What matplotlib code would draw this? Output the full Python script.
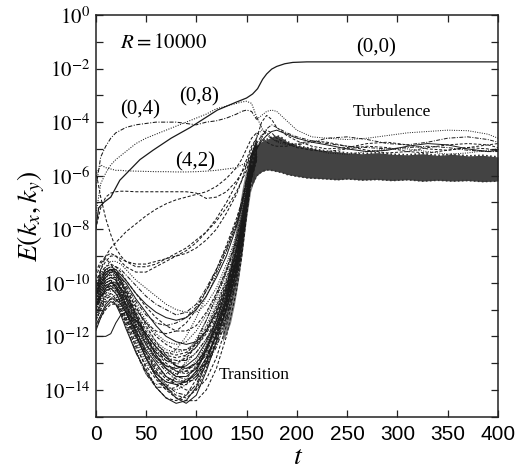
import numpy as np
import matplotlib
matplotlib.use("Agg")
import matplotlib.pyplot as plt

plt.rcParams['mathtext.fontset'] = 'stix'

# ---------------- data (log10 E) ----------------
T1 = [0, 5, 10, 15, 20, 25, 30, 40, 50, 60, 70, 80, 90, 100, 110, 120, 130, 140, 145, 150, 155, 160]

trans_lines = [
    [-11.0,-10.6,-10.2,-10.1,-10.3,-10.8,-11.3,-12.3,-13.2,-13.9,-14.3,-14.4,-14.2,-13.6,-12.8,-11.9,-10.9,-9.4,-8.4,-7.0,-5.8,-5.2],
    [-10.8,-10.3,-10.0,-9.9,-10.2,-10.6,-11.0,-11.9,-12.8,-13.5,-13.9,-14.3,-14.5,-14.2,-13.3,-12.2,-11.0,-9.5,-8.5,-7.1,-5.9,-5.3],
    [-11.5,-11.0,-10.6,-10.4,-10.5,-10.9,-11.4,-12.5,-13.4,-13.8,-13.7,-13.4,-13.0,-12.6,-12.1,-11.5,-10.6,-9.2,-8.2,-6.9,-5.7,-5.0],
    [-10.5,-10.0,-9.8,-9.7,-9.9,-10.3,-10.8,-11.8,-12.7,-13.3,-13.8,-14.1,-14.2,-13.8,-12.9,-11.8,-10.7,-9.2,-8.1,-6.8,-5.6,-5.0],
    [-11.2,-10.8,-10.5,-10.4,-10.6,-11.0,-11.5,-12.4,-13.1,-13.6,-14.0,-13.9,-13.6,-13.1,-12.4,-11.6,-10.7,-9.3,-8.3,-6.9,-5.7,-5.1],
    [-10.4,-10.0,-9.7,-9.6,-9.8,-10.2,-10.6,-11.4,-12.1,-12.6,-12.9,-13.0,-12.8,-12.4,-11.8,-11.0,-10.0,-8.8,-7.9,-6.7,-5.5,-4.9],
    [-10.9,-10.4,-10.1,-10.0,-10.1,-10.4,-10.8,-11.6,-12.3,-12.8,-13.1,-13.2,-13.1,-12.8,-12.2,-11.4,-10.4,-9.1,-8.1,-6.8,-5.6,-5.0],
    [-11.3,-10.9,-10.5,-10.3,-10.3,-10.5,-10.9,-11.7,-12.4,-12.9,-13.2,-13.4,-13.3,-12.9,-12.3,-11.5,-10.5,-9.2,-8.2,-6.9,-5.7,-5.1],
    [-10.6,-10.2,-9.9,-9.8,-9.9,-10.2,-10.5,-11.2,-11.9,-12.4,-12.8,-12.9,-12.9,-12.6,-12.1,-11.3,-10.3,-9.0,-8.0,-6.7,-5.5,-4.9],
    [-11.0,-10.5,-10.2,-10.0,-10.0,-10.3,-10.6,-11.3,-12.0,-12.6,-13.0,-13.3,-13.4,-13.2,-12.6,-11.8,-10.8,-9.4,-8.4,-7.0,-5.8,-5.2],
    [-10.2,-9.8,-9.6,-9.5,-9.7,-10.0,-10.4,-11.1,-11.8,-12.3,-12.6,-12.7,-12.6,-12.3,-11.7,-10.9,-9.9,-8.7,-7.8,-6.6,-5.4,-4.8],
    [-11.6,-11.2,-10.8,-10.6,-10.6,-10.8,-11.1,-11.8,-12.5,-13.0,-13.5,-13.7,-13.7,-13.4,-12.8,-12.0,-11.0,-9.6,-8.6,-7.2,-5.9,-5.3],
    [-10.7,-10.3,-10.0,-9.9,-10.0,-10.2,-10.5,-11.1,-11.7,-12.2,-12.5,-12.6,-12.5,-12.2,-11.6,-10.8,-9.8,-8.6,-7.7,-6.5,-5.4,-4.8],
    [-11.1,-10.6,-10.2,-10.1,-10.1,-10.4,-10.7,-11.5,-12.2,-12.8,-13.2,-13.5,-13.6,-13.5,-13.0,-12.2,-11.2,-9.7,-8.7,-7.3,-6.0,-5.3],
    [-10.3,-9.9,-9.6,-9.5,-9.6,-9.9,-10.2,-10.9,-11.5,-12.0,-12.3,-12.5,-12.5,-12.3,-11.8,-11.1,-10.2,-8.9,-8.0,-6.7,-5.5,-4.9],
    [-10.0,-9.6,-9.4,-9.3,-9.4,-9.6,-9.9,-10.4,-10.9,-11.3,-11.6,-11.8,-11.8,-11.6,-11.1,-10.4,-9.5,-8.4,-7.6,-6.5,-5.4,-4.8],
    [-10.5,-10.0,-9.7,-9.5,-9.5,-9.7,-9.9,-10.4,-10.8,-11.1,-11.3,-11.4,-11.3,-11.0,-10.5,-9.8,-9.0,-7.9,-7.2,-6.2,-5.2,-4.7],
    [-10.1,-9.7,-9.4,-9.2,-9.2,-9.3,-9.5,-9.9,-10.2,-10.5,-10.8,-11.0,-11.1,-11.1,-10.8,-10.2,-9.3,-8.2,-7.4,-6.4,-5.3,-4.8],
    [-10.3,-9.8,-9.5,-9.4,-9.4,-9.5,-9.7,-10.1,-10.5,-10.8,-11.0,-11.2,-11.1,-10.8,-10.2,-9.5,-8.7,-7.7,-7.0,-6.1,-5.2,-4.7],
    [-10.0,-9.5,-9.2,-9.0,-9.0,-9.1,-9.2,-9.3,-9.3,-9.2,-9.1,-9.0,-8.9,-8.7,-8.4,-8.0,-7.4,-6.7,-6.2,-5.6,-5.0,-4.6],
    [-9.8,-9.3,-9.0,-8.9,-9.0,-9.2,-9.4,-9.6,-9.6,-9.4,-9.2,-9.0,-8.8,-8.5,-8.1,-7.6,-7.0,-6.3,-5.9,-5.4,-4.9,-4.6],
    [-12.0,-12.0,-12.0,-11.9,-11.5,-11.2,-11.1,-11.4,-11.9,-12.4,-12.8,-13.1,-13.2,-13.0,-12.5,-11.7,-10.7,-9.3,-8.3,-7.0,-5.8,-5.2],
    [-10.6,-10.1,-9.8,-9.7,-9.9,-10.3,-10.7,-11.5,-12.2,-12.6,-12.7,-12.5,-12.0,-11.3,-10.5,-9.7,-8.8,-7.8,-7.2,-6.4,-5.5,-5.0],
    [-11.4,-10.9,-10.6,-10.5,-10.7,-11.1,-11.6,-12.6,-13.4,-13.9,-13.9,-13.5,-12.9,-12.2,-11.4,-10.5,-9.6,-8.5,-7.8,-6.8,-5.7,-5.1],
    [-10.8,-10.4,-10.1,-10.0,-10.1,-10.5,-10.9,-11.8,-12.6,-13.2,-13.6,-13.8,-13.8,-13.5,-12.9,-12.0,-10.9,-9.4,-8.3,-6.9,-5.7,-5.1],
    [-11.3,-10.8,-10.4,-10.2,-10.2,-10.5,-10.9,-11.7,-12.6,-13.3,-13.9,-14.2,-14.3,-14.0,-13.2,-12.1,-10.9,-9.3,-8.2,-6.8,-5.6,-5.0],
    [-10.9,-10.5,-10.3,-10.2,-10.4,-10.7,-11.1,-12.0,-12.8,-13.4,-13.7,-13.8,-13.7,-13.3,-12.5,-11.4,-10.2,-8.8,-7.9,-6.7,-5.6,-5.0],
    [-10.4,-10.0,-9.7,-9.6,-9.7,-9.9,-10.2,-10.8,-11.4,-11.9,-12.2,-12.3,-12.2,-11.8,-11.2,-10.4,-9.5,-8.3,-7.6,-6.6,-5.5,-4.9],
    [-11.0,-10.6,-10.3,-10.1,-10.2,-10.5,-10.8,-11.6,-12.3,-12.9,-13.3,-13.6,-13.7,-13.6,-13.1,-12.4,-11.4,-9.9,-8.9,-7.4,-6.1,-5.4],
    [-10.6,-10.2,-9.9,-9.8,-9.8,-10.0,-10.3,-10.9,-11.6,-12.2,-12.7,-13.1,-13.3,-13.3,-13.0,-12.3,-11.3,-9.8,-8.8,-7.3,-6.0,-5.3],
    [-9.6,-9.2,-9.1,-9.3,-9.6,-10.0,-10.4,-11.0,-11.5,-11.8,-11.9,-11.8,-11.5,-11.0,-10.3,-9.5,-8.6,-7.6,-7.0,-6.2,-5.3,-4.8],
    [-11.8,-11.3,-10.9,-10.7,-10.8,-11.2,-11.7,-12.6,-13.3,-13.9,-14.3,-14.5,-14.4,-13.9,-13.0,-11.9,-10.7,-9.2,-8.2,-6.9,-5.7,-5.0],
    [-10.9,-10.4,-10.0,-9.9,-10.1,-10.6,-11.1,-12.2,-13.0,-13.4,-13.4,-13.1,-12.7,-12.1,-11.4,-10.6,-9.6,-8.4,-7.6,-6.6,-5.5,-4.9],
    [-10.2,-9.8,-9.5,-9.5,-9.7,-10.1,-10.5,-11.3,-12.0,-12.5,-12.9,-13.1,-13.2,-13.1,-12.7,-12.0,-11.0,-9.6,-8.6,-7.2,-5.9,-5.2],
    [-11.4,-11.0,-10.7,-10.6,-10.8,-11.1,-11.4,-12.0,-12.6,-13.1,-13.5,-13.8,-14.0,-14.0,-13.6,-12.8,-11.6,-10.0,-8.9,-7.4,-6.1,-5.4],
    [-10.7,-10.2,-9.9,-9.8,-9.9,-10.2,-10.6,-11.4,-12.1,-12.7,-13.1,-13.3,-13.3,-13.0,-12.4,-11.6,-10.6,-9.2,-8.2,-6.9,-5.7,-5.1],
    [-10.5,-10.1,-9.8,-9.6,-9.6,-9.8,-10.0,-10.6,-11.1,-11.6,-12.0,-12.2,-12.3,-12.2,-11.8,-11.1,-10.1,-8.8,-7.9,-6.7,-5.5,-4.9],
    [-11.2,-10.7,-10.3,-10.2,-10.4,-10.8,-11.2,-12.1,-12.9,-13.5,-13.9,-14.0,-13.8,-13.3,-12.6,-11.7,-10.6,-9.2,-8.2,-6.9,-5.7,-5.1],
    [-10.1,-9.7,-9.5,-9.4,-9.5,-9.8,-10.1,-10.7,-11.2,-11.5,-11.6,-11.5,-11.3,-10.9,-10.3,-9.6,-8.8,-7.8,-7.1,-6.3,-5.3,-4.8],
    [-11.7,-11.3,-11.0,-10.8,-10.8,-11.0,-11.3,-12.0,-12.8,-13.5,-14.0,-14.3,-14.4,-14.4,-14.0,-13.2,-12.0,-10.3,-9.1,-7.5,-6.1,-5.4],
    [-10.9,-10.5,-10.2,-10.0,-10.0,-10.2,-10.5,-11.2,-11.9,-12.4,-12.7,-12.8,-12.7,-12.4,-11.9,-11.2,-10.3,-9.0,-8.1,-6.8,-5.6,-5.0],
    [-10.4,-9.9,-9.6,-9.5,-9.6,-9.9,-10.3,-11.2,-12.0,-12.7,-13.2,-13.5,-13.5,-13.2,-12.5,-11.6,-10.5,-9.1,-8.1,-6.8,-5.6,-5.0],
]

# upper modes on the same time grid
mode_04 = [-6.5,-5.3,-4.9,-4.6,-4.4,-4.3,-4.2,-4.1,-4.05,-4.0,-4.0,-4.0,-4.05,-4.1,-4.0,-3.95,-3.85,-3.7,-3.6,-3.55,-3.6,-3.9]
mode_08 = [-7.5,-6.3,-5.9,-5.6,-5.4,-5.25,-5.1,-4.8,-4.6,-4.45,-4.3,-4.15,-4.0,-3.85,-3.7,-3.5,-3.4,-3.3,-3.25,-3.22,-3.3,-3.8]
mode_42 = [-6.0,-5.6,-5.7,-5.75,-5.8,-5.8,-5.82,-5.83,-5.84,-5.85,-5.85,-5.86,-5.86,-5.85,-5.83,-5.8,-5.75,-5.7,-5.6,-5.5,-5.3,-5.0]
upper_a = [-8.0,-7.2,-6.8,-6.65,-6.6,-6.58,-6.58,-6.6,-6.6,-6.6,-6.6,-6.6,-6.6,-6.65,-6.85,-6.8,-6.6,-6.2,-5.9,-5.6,-5.2,-4.9]
upper_b = [-10.5,-9.5,-9.0,-8.7,-8.5,-8.3,-8.1,-7.8,-7.5,-7.25,-7.05,-6.9,-6.8,-6.7,-6.6,-6.4,-6.1,-5.7,-5.4,-5.0,-4.6,-4.4]
upper_c = [-5.8,-6.8,-7.6,-8.2,-8.7,-9.0,-9.2,-9.4,-9.4,-9.3,-9.1,-8.9,-8.7,-8.4,-8.1,-7.7,-7.2,-6.6,-6.2,-5.8,-5.2,-4.8]

# mode (0,0)
T00 = [0, 3, 8, 15, 24, 44, 57, 75, 94, 121, 140, 150, 156, 161, 166, 170, 175, 180, 188, 196, 210, 400]
mode_00 = [-8.0,-7.2,-7.0,-6.8,-6.17,-5.4,-5.05,-4.6,-4.2,-3.55,-3.25,-3.1,-2.95,-2.75,-2.4,-2.2,-2.02,-1.92,-1.82,-1.77,-1.75,-1.75]

# turbulence-phase curves above the dense band
T2 = [160, 165, 170, 175, 180, 190, 200, 215, 230, 250, 270, 290, 310, 330, 350, 370, 390, 400]
turb_lines = [
    [-3.9,-3.75,-3.6,-3.55,-3.6,-3.95,-4.3,-4.55,-4.6,-4.65,-4.6,-4.5,-4.4,-4.35,-4.3,-4.32,-4.45,-4.6],
    [-3.8,-4.2,-4.5,-4.6,-4.7,-4.8,-4.85,-4.75,-4.6,-4.55,-4.65,-4.8,-4.85,-4.75,-4.6,-4.55,-4.65,-4.75],
    [-4.6,-4.0,-3.75,-3.9,-4.2,-4.5,-4.7,-4.9,-5.0,-4.95,-4.8,-4.75,-4.85,-5.0,-5.05,-4.95,-4.85,-4.8],
    [-4.8,-4.5,-4.3,-4.4,-4.6,-4.8,-4.95,-5.05,-5.1,-5.0,-4.9,-4.95,-5.1,-5.15,-5.05,-4.95,-5.0,-5.1],
    [-5.0,-4.7,-4.5,-4.35,-4.3,-4.45,-4.6,-4.75,-4.85,-5.0,-5.1,-5.05,-4.9,-4.8,-4.85,-5.0,-5.1,-5.05],
    [-4.5,-4.3,-4.4,-4.6,-4.75,-4.85,-4.9,-5.0,-5.15,-5.2,-5.1,-5.0,-5.0,-5.1,-5.2,-5.15,-5.05,-5.0],
    [-5.0,-4.6,-4.25,-4.1,-4.2,-4.4,-4.55,-4.7,-4.8,-4.9,-4.95,-5.0,-4.95,-4.9,-4.95,-5.05,-5.1,-5.1],
    [-4.4,-4.55,-4.75,-4.85,-4.9,-4.9,-4.8,-4.7,-4.75,-4.9,-5.05,-5.15,-5.1,-4.95,-4.85,-4.8,-4.85,-4.95],
]

# dense turbulent band (top / bottom edge)
T_band = [155, 160, 165, 170, 175, 180, 185, 190, 200, 210, 220, 230, 240, 250, 265, 280, 295, 310, 325, 340, 355, 370, 385, 400]
band_top = [-5.6,-4.85,-4.72,-4.65,-4.55,-4.5,-4.58,-4.72,-4.88,-4.95,-5.02,-5.08,-5.1,-5.15,-5.18,-5.14,-5.2,-5.22,-5.18,-5.24,-5.2,-5.26,-5.24,-5.3]
band_bot = [-6.4,-6.0,-5.85,-5.78,-5.8,-5.84,-5.88,-5.95,-6.02,-6.08,-6.1,-6.12,-6.15,-6.12,-6.16,-6.14,-6.18,-6.15,-6.2,-6.17,-6.2,-6.18,-6.22,-6.2]

# dense rising strip at the end of transition
T_rise = [126, 130, 134, 138, 142, 146, 150, 154, 158]
rise_top = [-11.0,-10.2,-9.3,-8.3,-7.3,-6.4,-5.7,-5.2,-4.9]
rise_bot = [-12.2,-11.9,-11.5,-10.8,-9.9,-8.8,-7.6,-6.6,-6.1]

x_ticks = [0, 50, 100, 150, 200, 250, 300, 350, 400]
x_ticklabels = ['0', '50', '100', '150', '200', '250', '300', '350', '400']
y_ticks = [0, -2, -4, -6, -8, -10, -12, -14]
y_ticklabels = [r'$10^{0}$', r'$10^{-2}$', r'$10^{-4}$', r'$10^{-6}$', r'$10^{-8}$',
                r'$10^{-10}$', r'$10^{-12}$', r'$10^{-14}$']

# ---------------- figure ----------------
fig = plt.figure(figsize=(5.22, 4.69), dpi=100)
ax = fig.add_axes([0.1833, 0.1115, 0.7707, 0.8565])
ax.set_yscale('log')

DASH = (0, (3.0, 1.8))
DOT = (0, (1.0, 1.4))
DDOT = (0, (4.0, 1.5, 1.0, 1.5))
styles = [DASH, '-', DOT, DDOT, DASH]

ink = '#1a1a1a'
p = lambda v: 10.0 ** np.asarray(v)

for i, line in enumerate(trans_lines):
    ax.plot(T1, p(line), color=ink, lw=0.75, ls=styles[i % 5])

ax.fill_between(T_rise, p(rise_bot), p(rise_top), color='#2a2a2a', alpha=0.6, lw=0)
ax.fill_between(T_band, p(band_bot), p(band_top), color='#333333', alpha=0.92, lw=0)
ax.plot(T_band, p(band_top), color='#333333', lw=1.2, ls=DOT)
ax.plot(T_band, p(band_bot), color='#333333', lw=1.2, ls=DOT)

ax.plot(T1, p(mode_04), color=ink, lw=0.75, ls=DDOT)
ax.plot(T1, p(mode_08), color=ink, lw=0.75, ls=DOT)
ax.plot(T1, p(mode_42), color=ink, lw=0.75, ls=DOT)
ax.plot(T1, p(upper_a), color=ink, lw=0.75, ls=DASH)
ax.plot(T1, p(upper_b), color=ink, lw=0.75, ls=DASH)
ax.plot(T1, p(upper_c), color=ink, lw=0.75, ls=DASH)

for i, line in enumerate(turb_lines):
    ax.plot(T2, p(line), color=ink, lw=0.7, ls=styles[(i + 2) % 5])

ax.plot(T00, p(mode_00), color=ink, lw=0.9, ls='-')

ax.set_xlim(0, 400)
ax.set_ylim(1e-15, 1e0)

ax.set_xticks(x_ticks)
ax.set_xticklabels(x_ticklabels, fontsize=15, family='Liberation Sans')
ax.set_yticks([10.0 ** k for k in y_ticks])
ax.set_yticklabels(y_ticklabels, fontsize=15)
ax.set_yticks([10.0 ** k for k in range(-15, 1) if k not in y_ticks], minor=True)
ax.yaxis.set_minor_formatter(matplotlib.ticker.NullFormatter())
ax.tick_params(axis='both', which='both', direction='in', top=True, right=True,
               length=5, width=0.9, color='#222222')
ax.tick_params(axis='x', which='minor', length=0)
ax.tick_params(axis='x', pad=6)
ax.tick_params(axis='y', pad=4)
for s in ax.spines.values():
    s.set_linewidth(1.1)
    s.set_color('#222222')

ax.set_ylabel(r'$E\left(k_x,k_y\right)$', fontsize=20, labelpad=-3)
fig.text(0.571, 0.028, r'$t$', fontsize=20, ha='center', va='center')

serif = 'Liberation Serif'
ax.text(24, 10 ** -1.0, r'$R=10000$', fontsize=15, ha='left', va='center')
ax.text(279, 10 ** -1.23, '(0,0)', fontsize=15, family=serif, ha='center', va='center')
ax.text(44, 10 ** -3.55, '(0,4)', fontsize=15, family=serif, ha='center', va='center')
ax.text(103, 10 ** -3.07, '(0,8)', fontsize=15, family=serif, ha='center', va='center')
ax.text(99, 10 ** -5.5, '(4,2)', fontsize=15, family=serif, ha='center', va='center')
ax.text(294, 10 ** -3.63, 'Turbulence', fontsize=12.5, family=serif, ha='center', va='center')
ax.text(158, 10 ** -13.46, 'Transition', fontsize=12.5, family=serif, ha='center', va='center',
        bbox=dict(facecolor='white', edgecolor='none', pad=0.5))

fig.savefig('out.png', dpi=100)
